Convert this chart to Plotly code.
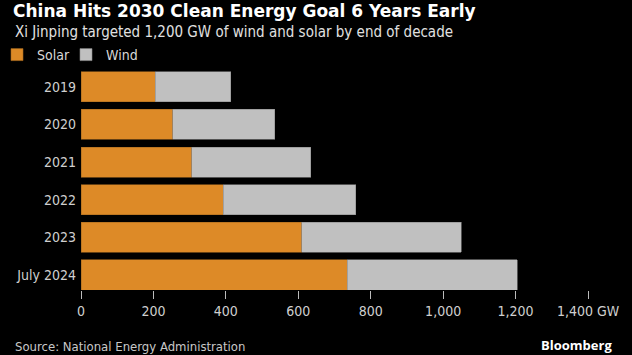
import plotly.graph_objects as go

categories = ["2019", "2020", "2021", "2022", "2023", "July 2024"]
solar = [205, 253, 306, 393, 609, 735]
wind = [209, 282, 328, 365, 441, 470]
tick_vals = [0, 200, 400, 600, 800, 1000, 1200, 1400]
tick_text = ["0", "200", "400", "600", "800", "1,000", "1,200", "1,400 GW"]

W, H = 632, 355
ML, MR, MT, MB = 81, 44, 68, 65
PW, PH = W - ML - MR, H - MT - MB
NARROW = "DejaVu Sans Condensed, Liberation Sans Narrow, Roboto Condensed, DejaVu Sans, sans-serif"
BOLD = "DejaVu Sans, Verdana, sans-serif"
ORANGE = "#DD8A27"
GRAY = "#C0C0C0"


def px_x(px):
    return (px - ML) / PW


def px_y(py):
    return 1 - (py - MT) / PH


fig = go.Figure()
fig.add_trace(go.Bar(
    y=categories, x=solar, name="Solar", orientation="h", legend="legend",
    marker=dict(color=ORANGE, line=dict(color="#A86A20", width=0.6)),
))
fig.add_trace(go.Bar(
    y=categories, x=wind, name="Wind", orientation="h", legend="legend2",
    marker=dict(color=GRAY, line=dict(color="#8A8A8A", width=0.6)),
))

legend_common = dict(
    orientation="h", xref="paper", yref="paper", xanchor="left",
    y=px_y(55), yanchor="middle",
    font=dict(family=NARROW, size=14, color="#D8D8D8"),
    itemwidth=30, bgcolor="rgba(0,0,0,0)",
)

fig.update_layout(
    width=W, height=H,
    barmode="stack", bargap=0.2,
    paper_bgcolor="black", plot_bgcolor="black",
    margin=dict(l=ML, r=MR, t=MT, b=MB, autoexpand=False),
    font=dict(family=NARROW, color="#D0D0D0", size=14),
    title=dict(
        text="<b>China Hits 2030 Clean Energy Goal 6 Years Early</b>",
        font=dict(family=BOLD, size=17, color="white"),
        xref="container", yref="container", x=13 / W, xanchor="left",
        y=1 - 11 / H, yanchor="middle",
    ),
    legend=dict(x=px_x(-3), **legend_common),
    legend2=dict(x=px_x(66), **legend_common),
    xaxis=dict(
        range=[0, 1400], tickvals=tick_vals, ticktext=tick_text,
        showgrid=False, zeroline=False, showline=False, automargin=False,
        ticks="outside", ticklen=8, tickcolor="#BBBBBB", tickwidth=1,
        tickfont=dict(family=NARROW, size=14, color="#CFCFCF"),
        fixedrange=True,
    ),
    yaxis=dict(
        categoryorder="array", categoryarray=categories, automargin=False,
        range=[5.4, -0.5], showgrid=False, zeroline=False, showline=False,
        ticks="", tickfont=dict(family=NARROW, size=14, color="#CFCFCF"),
        ticklabelstandoff=4, fixedrange=True,
    ),
    showlegend=True,
)

fig.add_annotation(
    text="Xi Jinping targeted 1,200 GW of wind and solar by end of decade",
    xref="paper", yref="paper", x=px_x(13), xanchor="left",
    y=px_y(32), yanchor="middle", showarrow=False,
    font=dict(family=NARROW, size=15, color="#E0E0E0"),
)
fig.add_annotation(
    text="Source: National Energy Administration",
    xref="paper", yref="paper", x=px_x(13), xanchor="left",
    y=px_y(346), yanchor="middle", showarrow=False,
    font=dict(family=NARROW, size=13, color="#C8C8C8"),
)
fig.add_annotation(
    text="<b>Bloomberg</b>",
    xref="paper", yref="paper", x=px_x(614), xanchor="right",
    y=px_y(345), yanchor="middle", showarrow=False,
    font=dict(family="Open Sans, DejaVu Sans, sans-serif", size=13, color="white"),
)

fig.write_html(
    "out.html",
    config={"displayModeBar": False, "staticPlot": True},
    post_script="document.body.style.margin='0';document.body.style.background='black';",
)
